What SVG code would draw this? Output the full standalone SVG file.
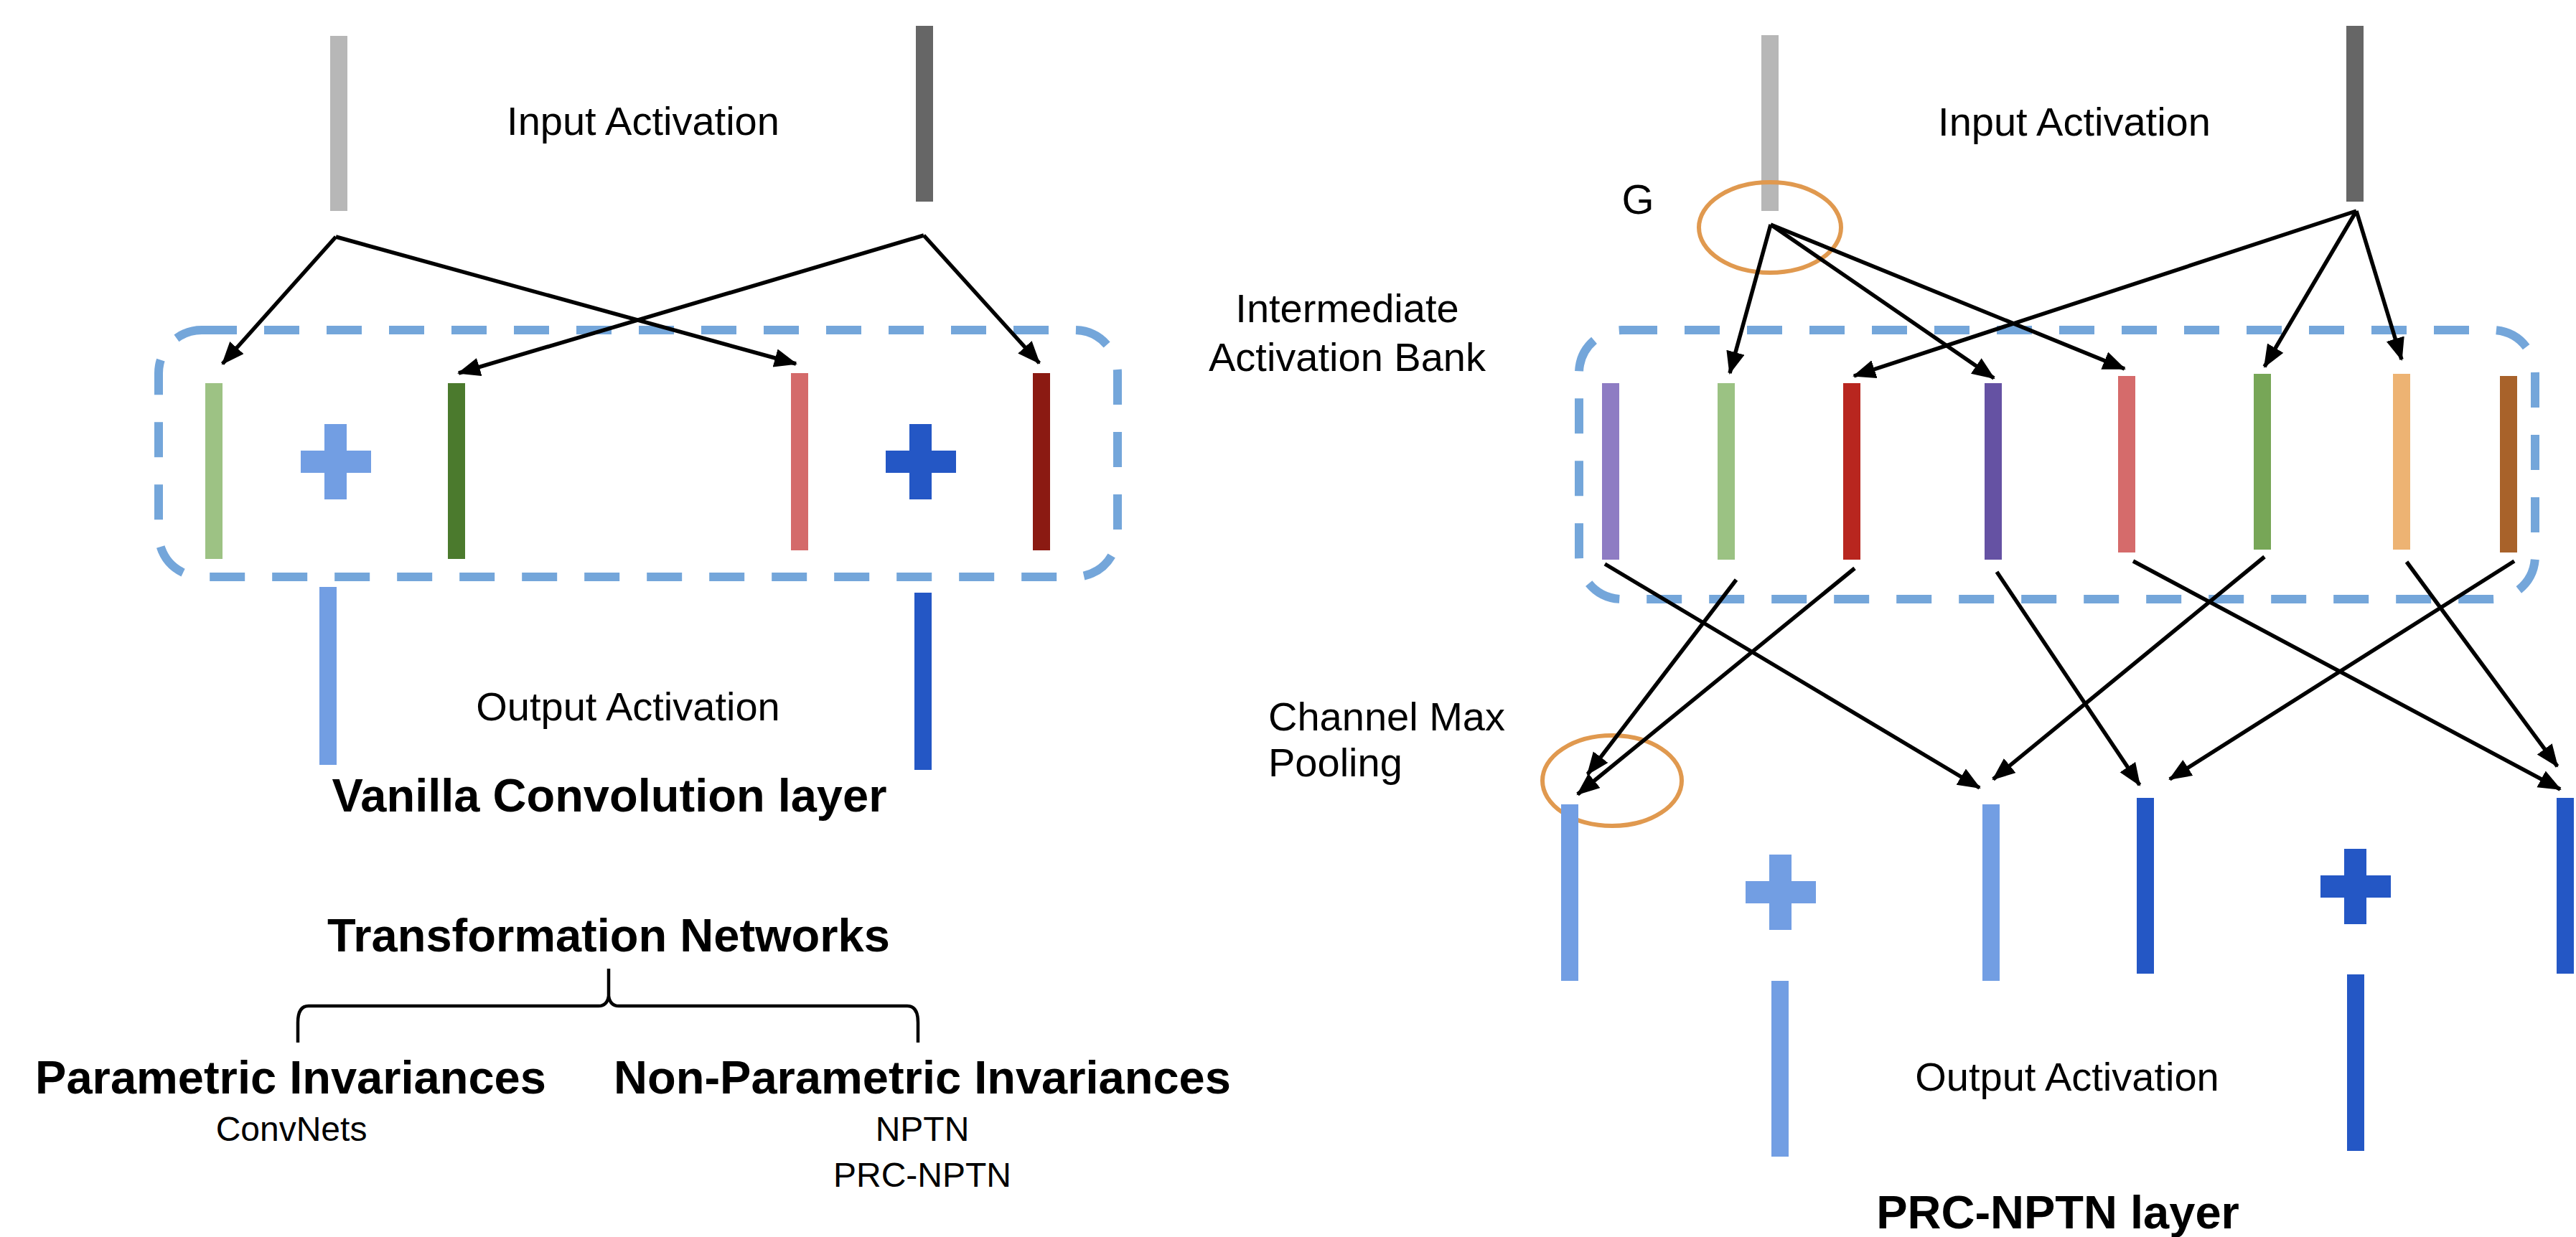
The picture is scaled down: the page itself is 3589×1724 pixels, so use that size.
<svg xmlns="http://www.w3.org/2000/svg" width="3589" height="1724" viewBox="0 0 3589 1724">
<defs>
<marker id="ah" markerUnits="userSpaceOnUse" markerWidth="34" markerHeight="28" refX="30" refY="13" orient="auto">
<path d="M0,0 L32,13 L0,26 z" fill="#000"/>
</marker>
</defs>
<style>
text{font-family:"Liberation Sans",Arial,sans-serif;fill:#000}
.t{font-size:56px}
.s{font-size:48px}
.b{font-size:65px;font-weight:bold}
.m{text-anchor:middle}
.box{fill:none;stroke:#74a6da;stroke-width:12;stroke-dasharray:49 38}
.ring{fill:none;stroke:#e0994f;stroke-width:6}
.conn path{fill:none;stroke:#000;stroke-width:5.5;marker-end:url(#ah)}
.brace{fill:none;stroke:#000;stroke-width:4.5}
</style>
<rect width="3589" height="1724" fill="#fff"/>

<!-- LEFT PANEL -->
<g id="left-box"><rect class="box" x="221" y="460" width="1336" height="344" rx="60" ry="60"/></g>
<g id="left-in-1"><rect x="460" y="50" width="24" height="244" fill="#b7b7b7"/></g>
<g id="left-in-2"><rect x="1276" y="36" width="24" height="245" fill="#666666"/></g>
<g id="left-input-label"><text class="t m" x="896" y="188">Input Activation</text></g>
<g id="left-b1"><rect x="286" y="534" width="24" height="245" fill="#9dc284"/></g>
<g id="left-plus-1"><rect x="419" y="628" width="98" height="31" fill="#729ee3"/><rect x="452" y="591" width="31" height="105" fill="#729ee3"/></g>
<g id="left-b2"><rect x="624" y="534" width="24" height="245" fill="#4b7a2d"/></g>
<g id="left-b3"><rect x="1102" y="520" width="24" height="247" fill="#d46a6a"/></g>
<g id="left-plus-2"><rect x="1234" y="628" width="98" height="31" fill="#2457c5"/><rect x="1267" y="591" width="31" height="105" fill="#2457c5"/></g>
<g id="left-b4"><rect x="1439" y="520" width="24" height="247" fill="#8b1a12"/></g>
<g id="left-out-1"><rect x="445" y="818" width="24" height="248" fill="#729ee3"/></g>
<g id="left-out-2"><rect x="1274" y="826" width="24" height="247" fill="#2457c5"/></g>
<g id="left-output-label"><text class="t m" x="875" y="1004">Output Activation</text></g>
<g id="left-title"><text class="b m" x="849" y="1131">Vanilla Convolution layer</text></g>

<!-- TAXONOMY -->
<g id="tn"><text class="b m" x="848" y="1326">Transformation Networks</text></g>
<g id="tn-brace"><path class="brace" d="M415,1453 V1425 Q415,1402 430,1402 H834 Q846,1402 848,1388 V1350 M848,1388 Q850,1402 862,1402 H1264 Q1279,1402 1279,1425 V1453"/></g>
<g id="tn-param"><text class="b m" x="405" y="1524">Parametric Invariances</text><text class="s m" x="406" y="1590">ConvNets</text></g>
<g id="tn-nonparam"><text class="b m" x="1285" y="1524">Non-Parametric Invariances</text><text class="s m" x="1285" y="1590">NPTN</text><text class="s m" x="1285" y="1654">PRC-NPTN</text></g>

<!-- RIGHT PANEL -->
<g id="right-box"><rect class="box" x="2200" y="460" width="1332" height="375" rx="60" ry="60"/></g>
<g id="right-in-1"><rect x="2454" y="49" width="24" height="245" fill="#b7b7b7"/></g>
<g id="right-in-2"><rect x="3269" y="36" width="24" height="245" fill="#666666"/></g>
<g id="right-input-label"><text class="t m" x="2890" y="189">Input Activation</text></g>
<g id="g-ring"><ellipse class="ring" cx="2466" cy="317" rx="99" ry="63"/><text class="t m" x="2282" y="298" style="font-size:58px">G</text></g>
<g id="bank-label"><text class="t m" x="1877" y="449">Intermediate</text><text class="t m" x="1877" y="517">Activation Bank</text></g>
<g id="rb1"><rect x="2232" y="534" width="24" height="246" fill="#8e7cc3"/></g>
<g id="rb2"><rect x="2393" y="534" width="24" height="246" fill="#9bc283"/></g>
<g id="rb3"><rect x="2568" y="534" width="24" height="246" fill="#b8261f"/></g>
<g id="rb4"><rect x="2765" y="534" width="24" height="246" fill="#6552a3"/></g>
<g id="rb5"><rect x="2951" y="524" width="24" height="246" fill="#d56b6b"/></g>
<g id="rb6"><rect x="3140" y="521" width="24" height="245" fill="#77a657"/></g>
<g id="rb7"><rect x="3334" y="521" width="24" height="245" fill="#edb373"/></g>
<g id="rb8"><rect x="3483" y="524" width="24" height="246" fill="#a8622a"/></g>
<g id="pool-label"><text class="t" x="1767" y="1018">Channel Max</text><text class="t" x="1767" y="1082">Pooling</text></g>
<g id="pool-ring"><ellipse class="ring" cx="2246" cy="1088" rx="97" ry="63"/></g>
<g id="ro1"><rect x="2175" y="1121" width="24" height="246" fill="#729ee3"/></g>
<g id="rplus1"><rect x="2432" y="1228" width="98" height="31" fill="#729ee3"/><rect x="2465" y="1191" width="31" height="105" fill="#729ee3"/></g>
<g id="ro2"><rect x="2762" y="1121" width="24" height="246" fill="#729ee3"/></g>
<g id="ro3"><rect x="2977" y="1112" width="24" height="245" fill="#2457c5"/></g>
<g id="rplus2"><rect x="3233" y="1220" width="98" height="31" fill="#2457c5"/><rect x="3266" y="1183" width="31" height="105" fill="#2457c5"/></g>
<g id="ro4"><rect x="3562" y="1112" width="24" height="245" fill="#2457c5"/></g>
<g id="rl1"><rect x="2468" y="1367" width="24" height="245" fill="#729ee3"/></g>
<g id="rl2"><rect x="3270" y="1358" width="24" height="246" fill="#2457c5"/></g>
<g id="right-output-label"><text class="t m" x="2880" y="1520">Output Activation</text></g>
<g id="right-title"><text class="b m" x="2867" y="1712">PRC-NPTN layer</text></g>

<!-- CONNECTORS -->
<g id="connectors" class="conn">
<path d="M468,330 L310,507"/>
<path d="M468,330 L1109,507"/>
<path d="M1287,328 L639,520"/>
<path d="M1287,328 L1448,506"/>
<path d="M2467,313 L2410,520"/>
<path d="M2467,313 L2778,527"/>
<path d="M2467,313 L2960,514"/>
<path d="M3283,294 L2583,524"/>
<path d="M3283,294 L3155,511"/>
<path d="M3283,294 L3346,501"/>
<path d="M2236,786 L2758,1098"/>
<path d="M2419,808 L2212,1079"/>
<path d="M2584,792 L2198,1107"/>
<path d="M2782,797 L2981,1094"/>
<path d="M2972,782 L3567,1100"/>
<path d="M3155,776 L2777,1086"/>
<path d="M3353,783 L3563,1068"/>
<path d="M3503,782 L3023,1086"/>
</g>
</svg>
